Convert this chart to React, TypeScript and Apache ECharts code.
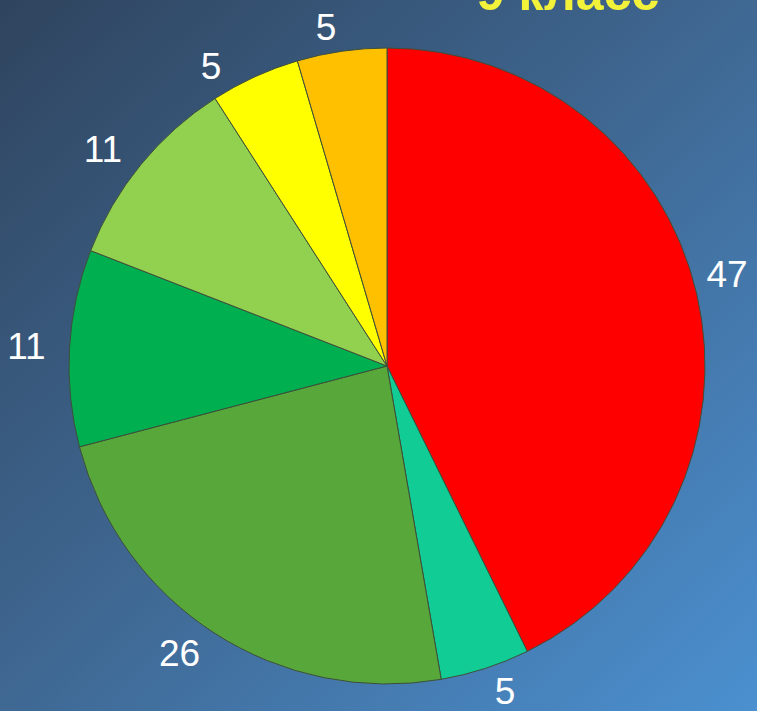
import React, { useEffect, useRef } from "react";
import * as echarts from "echarts";

const categories = ["A", "B", "C", "D", "E", "F", "G"];
const values = [47, 5, 26, 11, 11, 5, 5];
const colors = ["#ff0000", "#12cc96", "#58a73a", "#00b050", "#92d050", "#ffff00", "#ffc000"];
const titleText = "9 класс";

export default function App() {
  const ref = useRef<HTMLDivElement>(null);
  useEffect(() => {
    if (!ref.current) return;
    const chart = echarts.init(ref.current, null, { renderer: "svg" });
    chart.setOption({
      animation: false,
      backgroundColor: "transparent",
      graphic: [
        {
          type: "text",
          x: 568,
          y: -7,
          style: {
            text: titleText,
            fill: "#f2f23a",
            font: "bold 50px 'Liberation Sans', Arial, sans-serif",
            align: "center",
            verticalAlign: "middle",
          },
        },
      ],
      series: [
        {
          type: "pie",
          center: [387, 366],
          radius: 318,
          startAngle: 90,
          clockwise: true,
          data: categories.map((c, i) => ({
            name: c,
            value: values[i],
            itemStyle: { color: colors[i] },
            ...(i === 0
              ? { labelLine: { length: 8, length2: 0 }, label: { offset: [0, -18] } }
              : {}),
          })),
          itemStyle: { borderColor: "#3d4f3a", borderWidth: 1 },
          label: {
            show: true,
            position: "outside",
            formatter: "{c}",
            color: "#ffffff",
            fontSize: 37,
            fontFamily: "'Liberation Sans', Arial, sans-serif",
            distanceToLabelLine: 2,
            overflow: "none",
          },
          labelLine: { show: false, length: 24, length2: 0 },
          emphasis: { disabled: true },
        },
      ],
    });
    return () => chart.dispose();
  }, []);
  return (
    <div
      style={{
        position: "fixed",
        left: 0,
        top: 0,
        width: 757,
        height: 711,
        background: "linear-gradient(to bottom right, #2f445e 0%, #3f6893 50%, #4b90d0 100%)",
      }}
    >
      <div ref={ref} style={{ width: 757, height: 711 }} />
    </div>
  );
}
